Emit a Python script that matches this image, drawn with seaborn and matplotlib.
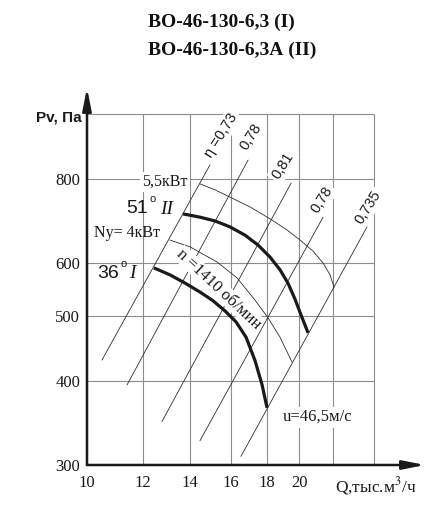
import numpy as np
import pandas as pd
import matplotlib
matplotlib.use("Agg")
import matplotlib.pyplot as plt
import seaborn as sns

# ---------------- data ----------------
curve_I_Q = [12.44, 13.11, 13.77, 14.46, 15.09, 15.69, 16.27, 16.81, 17.31, 17.71, 18.00]
curve_I_P = [590, 576, 560, 543, 527, 509, 490, 465, 429, 395, 365]

curve_II_Q = [13.68, 14.46, 15.19, 15.95, 16.75, 17.48, 18.18, 18.78, 19.27, 19.72, 20.11, 20.58]
curve_II_P = [710, 702, 693, 679, 660, 638, 612, 586, 560, 530, 502, 472]

power_55_Q = [14.46, 15.19, 15.95, 17.03, 18.18, 19.21, 20.05, 20.91, 21.61, 22.11, 22.40]
power_55_P = [787, 771, 752, 727, 698, 672, 649, 625, 600, 576, 552]

power_4_Q = [13.11, 14.00, 15.29, 16.32, 17.31, 18.06, 18.78, 19.53]
power_4_P = [649, 634, 602, 570, 528, 497, 465, 427]

eta_labels = ["η =0,73", "0,78", "0,81", "0,78", "0,735"]
eta_Q_low = [10.50, 11.40, 12.77, 14.46, 16.53]
eta_P_low = [430, 395, 348, 326, 309]
eta_Q_high = [14.94, 16.92, 19.47, 21.61, 24.95]
eta_P_high = [840, 854, 789, 702, 679]

x_ticks = [10, 12, 14, 16, 18, 20]
x_grid = [12, 14, 16, 18, 20, 22.3, 25.5]
y_ticks = [300, 400, 500, 600, 800]
y_grid = [400, 500, 600, 800, 1000]

# ---------------- style ----------------
sns.set_theme(style="white")
plt.rcParams["font.family"] = ["Liberation Serif", "DejaVu Serif"]
plt.rcParams["mathtext.fontset"] = "stix"

W, H = 438, 505
fig = plt.figure(figsize=(W / 100, H / 100), dpi=100)

# axes geometry in pixels
ax_l, ax_r, ax_b, ax_t = 87, 425, 465, 88
kx, ky = 306.3, 291.5  # px per natural-log unit
ax = fig.add_axes([ax_l / W, 1 - ax_b / H, (ax_r - ax_l) / W, (ax_b - ax_t) / H])
ax.set_xscale("log")
ax.set_yscale("log")
ax.set_xlim(10, 10 * np.exp((ax_r - ax_l) / kx))
ax.set_ylim(300, 300 * np.exp((ax_b - ax_t) / ky))
for s in ax.spines.values():
    s.set_visible(False)
ax.patch.set_alpha(0)

def fp(x, y):
    return x / W, 1 - y / H

# grid
gcol = "#8c8c8c"
ax.vlines(x_grid, 300, y_grid[-1], color=gcol, lw=0.8, zorder=1)
ax.hlines(y_grid, 10, x_grid[-1], color=gcol, lw=0.8, zorder=1)

# axes arrows
arrow = dict(arrowstyle="-|>,head_length=1.1,head_width=0.22", lw=1.8, color="#1a1a1a",
             shrinkA=0, shrinkB=0)
ax.annotate("", xy=(0, 1), xytext=(0, 0), xycoords="axes fraction", arrowprops=arrow, zorder=6)
ax.annotate("", xy=(1, 0), xytext=(0, 0), xycoords="axes fraction", arrowprops=arrow, zorder=6)

# ticks
ax.minorticks_off()
ax.set_xticks(x_ticks)
ax.set_xticklabels([str(v) for v in x_ticks])
ax.set_yticks(y_ticks)
ax.set_yticklabels([str(v) for v in y_ticks])
ax.tick_params(axis="both", length=0, labelsize=12, labelcolor="#1a1a1a")
ax.tick_params(axis="y", pad=5)
ax.tick_params(axis="x", pad=7)
for lab in ax.get_xticklabels() + ax.get_yticklabels():
    lab.set_family("Liberation Serif")

# efficiency lines
thin = "#2e2e2e"
for ql, pl, qh, ph in zip(eta_Q_low, eta_P_low, eta_Q_high, eta_P_high):
    df = pd.DataFrame({"Q": [ql, qh], "P": [pl, ph]})
    sns.lineplot(data=df, x="Q", y="P", ax=ax, color=thin, lw=0.6, estimator=None,
                 sort=False, zorder=2)

# power arcs
for qq, pp in ((power_55_Q, power_55_P), (power_4_Q, power_4_P)):
    df = pd.DataFrame({"Q": qq, "P": pp})
    sns.lineplot(data=df, x="Q", y="P", ax=ax, color=thin, lw=0.6, estimator=None,
                 sort=False, zorder=2)

# fan curves
for qq, pp in ((curve_I_Q, curve_I_P), (curve_II_Q, curve_II_P)):
    df = pd.DataFrame({"Q": qq, "P": pp})
    sns.lineplot(data=df, x="Q", y="P", ax=ax, color="#1a1a1a", lw=2.3, estimator=None,
                 sort=False, zorder=5, solid_capstyle="butt", solid_joinstyle="round")

ax.set_xlabel("")
ax.set_ylabel("")

white = dict(boxstyle="square,pad=0.15", fc="white", ec="none")

# efficiency labels
eta_pos = [(221, 135), (251, 137), (283, 166), (322, 200), (368, 207)]
for lab, (px, py) in zip(eta_labels, eta_pos):
    fig.text(*fp(px, py), lab, rotation=58, ha="center", va="center",
             rotation_mode="anchor", fontsize=10.5, family=["Liberation Sans", "DejaVu Sans"],
             color="#1a1a1a", bbox=white, zorder=4)

# titles
fig.text(*fp(221, 22), "ВО-46-130-6,3 (I)", ha="center", va="center", fontsize=14,
         weight="bold", family="Liberation Serif", color="#111")
fig.text(*fp(232, 50), "ВО-46-130-6,3А (II)", ha="center", va="center", fontsize=14,
         weight="bold", family="Liberation Serif", color="#111")

# axis titles
fig.text(*fp(82, 118), "Pv, Па", ha="right", va="center", fontsize=11, weight="bold",
         family="Liberation Sans", color="#1a1a1a")
fig.text(*fp(335, 486), "Q,тыс.м$^3$/ч", ha="left", va="center", fontsize=12.5,
         family="Liberation Serif", color="#1a1a1a")

# annotations
fig.text(*fp(165, 182), "5,5кВт", ha="center", va="center", fontsize=11.5,
         family="Liberation Serif", color="#1a1a1a", bbox=white, zorder=4)
fig.text(*fp(127, 233), "Ny= 4кВт", ha="center", va="center", fontsize=11.5,
         family="Liberation Serif", color="#1a1a1a")
fig.text(*fp(318, 417), "u=46,5м/с", ha="center", va="center", fontsize=12,
         family="Liberation Serif", color="#1a1a1a", bbox=white, zorder=4)
fig.text(*fp(219, 289), "n =1410 об/мин", ha="center", va="center", fontsize=12,
         rotation=-43, rotation_mode="anchor", family="Liberation Serif", color="#1a1a1a",
         bbox=dict(boxstyle="square,pad=0.05", fc="white", ec="none"), zorder=4)

# blade angle labels
fig.text(*fp(137, 209), "51", ha="center", va="center", fontsize=14,
         family="Liberation Sans", color="#1a1a1a")
fig.text(*fp(153, 199), "o", ha="center", va="center", fontsize=8,
         family="Liberation Sans", color="#1a1a1a")
fig.text(*fp(167, 210), "II", ha="center", va="center", fontsize=14, style="italic",
         family="Liberation Serif", color="#1a1a1a")
fig.text(*fp(108, 274), "36", ha="center", va="center", fontsize=14,
         family="Liberation Sans", color="#1a1a1a")
fig.text(*fp(124, 264), "o", ha="center", va="center", fontsize=8,
         family="Liberation Sans", color="#1a1a1a")
fig.text(*fp(132, 274), "I", ha="center", va="center", fontsize=14, style="italic",
         family="Liberation Serif", color="#1a1a1a")

fig.savefig("out.png", dpi=100)
